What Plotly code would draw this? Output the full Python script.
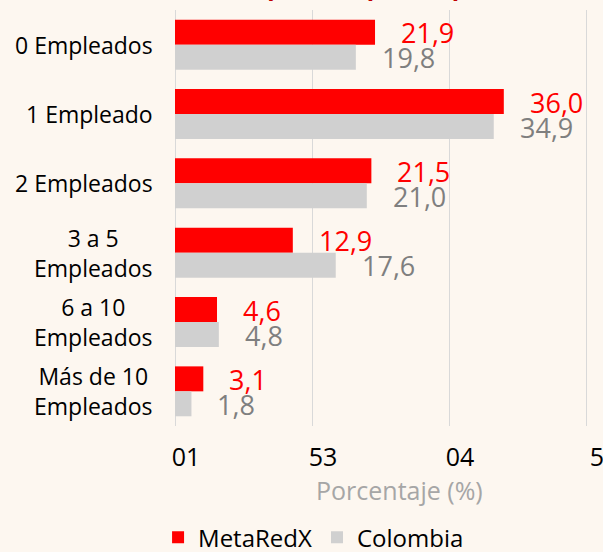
import plotly.graph_objects as go

categories = ["0 Empleados", "1 Empleado", "2 Empleados", "3 a 5<br>Empleados",
              "6 a 10<br>Empleados", "Más de 10<br>Empleados"]
metaredx = [21.9, 36.0, 21.5, 12.9, 4.6, 3.1]
colombia = [19.8, 34.9, 21.0, 17.6, 4.8, 1.8]
tick_vals = [0, 15, 30, 45]
tick_text = ["01", "53", "04", "5"]
series_names = ["MetaRedX", "Colombia"]
title_text = "Número de empleados por empresa"

RED = "#FF0000"
GRAY = "#D0D0D0"
BG = "#FDF7F0"
FONT = "Open Sans"

fig = go.Figure()
fig.add_bar(y=list(range(len(categories))), x=metaredx, orientation="h", name=series_names[0],
            marker=dict(color=RED, line=dict(width=0)))
fig.add_bar(y=list(range(len(categories))), x=colombia, orientation="h", name=series_names[1],
            marker=dict(color=GRAY, line=dict(width=0)))

def fmt(v):
    return f"{v:.1f}".replace(".", ",")

ann = []
for i, (a, b) in enumerate(zip(metaredx, colombia)):
    ann.append(dict(x=a, y=i, xref="x", yref="y", text=fmt(a), showarrow=False,
                    xanchor="left", yanchor="middle", xshift=24, yshift=12,
                    font=dict(family=FONT, size=27, color=RED)))
    ann.append(dict(x=b, y=i, xref="x", yref="y", text=fmt(b), showarrow=False,
                    xanchor="left", yanchor="middle", xshift=24, yshift=-13,
                    font=dict(family=FONT, size=27, color="#7F7F7F")))
    ann.append(dict(x=0, y=i, xref="paper", yref="y", text=categories[i], showarrow=False,
                    xanchor="right", yanchor="middle", xshift=-20, align="center",
                    font=dict(family=FONT, size=23, color="#000000")))

ann.append(dict(x=0.3, y=1.024, xref="paper", yref="paper", text="<b>" + title_text + "</b>",
                showarrow=False, xanchor="center", yanchor="bottom", yshift=-4,
                font=dict(family=FONT, size=24, color="#C00000")))

ann.append(dict(x=0.5, y=0, xref="paper", yref="paper", text="Porcentaje (%)",
                showarrow=False, xanchor="center", yanchor="top", xshift=10, yshift=-45,
                font=dict(family=FONT, size=25, color="#A6A6A6")))

fig.update_layout(
    width=603, height=552,
    margin=dict(l=175, r=0, t=10, b=126, autoexpand=False),
    paper_bgcolor=BG, plot_bgcolor=BG,
    barmode="group", bargap=0.28, bargroupgap=0,
    font=dict(family=FONT),
    showlegend=True,
    legend=dict(orientation="h", xref="container", yref="container", x=0.52, y=0.026,
                xanchor="center", yanchor="middle",
                font=dict(family=FONT, size=24, color="#000000"),
                itemwidth=30, traceorder="normal", bgcolor="rgba(0,0,0,0)"),
    annotations=ann,
    xaxis=dict(range=[0, 46.86], tickvals=tick_vals, ticktext=tick_text,
               showgrid=True, gridcolor="#D9D9D9", gridwidth=1,
               zeroline=True, zerolinecolor="#D9D9D9", zerolinewidth=1,
               ticks="", ticklabelstandoff=14, ticklabelshift=11,
               ticklabeloverflow="allow",
               tickfont=dict(family=FONT, size=25, color="#000000")),
    yaxis=dict(range=[len(categories) - 0.5, -0.5], showticklabels=False, showgrid=False,
               zeroline=False, ticks=""),
)

fig.write_html("out.html", config={"displayModeBar": False})

with open("out.html", "r", encoding="utf-8") as f:
    html = f.read()
html = html.replace("<head>", "<head><style>html,body{margin:0;padding:0;overflow:hidden;}</style>", 1)
with open("out.html", "w", encoding="utf-8") as f:
    f.write(html)
